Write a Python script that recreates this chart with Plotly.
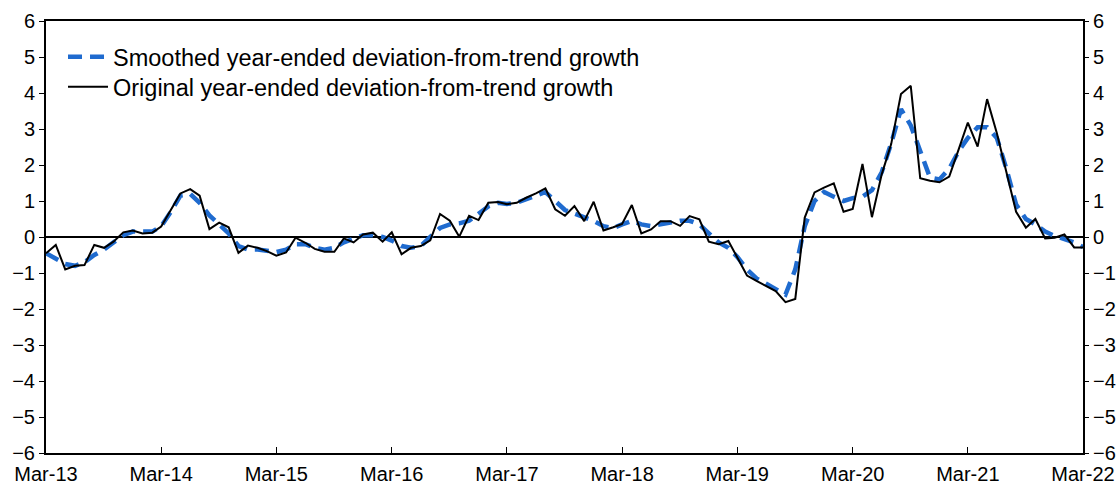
import pandas as pd
import plotly.graph_objects as go

# Monthly observations, Mar-2013 .. Mar-2022
months = pd.date_range("2013-03-01", "2022-03-01", freq="MS")

original = [
    -0.45, -0.22, -0.90, -0.80, -0.78, -0.22, -0.30, -0.13, 0.13, 0.18, 0.10, 0.12,
    0.29, 0.75, 1.21, 1.33, 1.15, 0.22, 0.40, 0.27, -0.44, -0.24, -0.30, -0.40,
    -0.52, -0.43, -0.02, -0.16, -0.33, -0.41, -0.41, -0.04, -0.15, 0.07, 0.12, -0.13,
    0.13, -0.48, -0.30, -0.25, -0.09, 0.64, 0.45, 0.01, 0.59, 0.47, 0.95, 0.97,
    0.91, 0.95, 1.09, 1.21, 1.35, 0.77, 0.59, 0.86, 0.44, 0.98, 0.18, 0.27,
    0.36, 0.89, 0.10, 0.21, 0.44, 0.44, 0.31, 0.58, 0.49, -0.13, -0.20, -0.11,
    -0.57, -1.07, -1.22, -1.36, -1.50, -1.81, -1.72, 0.54, 1.24, 1.37, 1.49, 0.70,
    0.78, 2.03, 0.55, 1.74, 2.58, 3.97, 4.20, 1.63, 1.56, 1.52, 1.68, 2.46,
    3.18, 2.51, 3.83, 2.88, 1.77, 0.70, 0.26, 0.50, -0.04, -0.02, 0.07, -0.29,
    -0.29,
]

smoothed = [
    -0.45, -0.60, -0.75, -0.80, -0.70, -0.50, -0.35, -0.15, 0.05, 0.15, 0.15, 0.15,
    0.30, 0.70, 1.15, 1.20, 0.95, 0.60, 0.35, 0.10, -0.25, -0.35, -0.35, -0.40,
    -0.42, -0.35, -0.20, -0.20, -0.30, -0.35, -0.30, -0.15, -0.05, 0.05, 0.05, 0.00,
    -0.10, -0.25, -0.30, -0.25, 0.00, 0.25, 0.35, 0.38, 0.45, 0.65, 0.85, 0.95,
    0.92, 0.95, 1.05, 1.15, 1.25, 1.00, 0.75, 0.65, 0.55, 0.45, 0.30, 0.25,
    0.35, 0.45, 0.35, 0.30, 0.35, 0.40, 0.45, 0.45, 0.35, 0.10, -0.15, -0.30,
    -0.55, -0.90, -1.15, -1.30, -1.45, -1.60, -0.90, 0.30, 1.00, 1.25, 1.12, 1.00,
    1.08, 1.12, 1.30, 1.80, 2.60, 3.55, 3.10, 2.35, 1.65, 1.60, 1.90, 2.40,
    2.75, 3.05, 3.05, 2.75, 1.90, 0.90, 0.50, 0.35, 0.15, 0.03, -0.05, -0.15,
    -0.28,
]

tick_dates = pd.date_range("2013-03-01", "2022-03-01", freq="12MS")
tick_labels = ["Mar-13", "Mar-14", "Mar-15", "Mar-16", "Mar-17",
               "Mar-18", "Mar-19", "Mar-20", "Mar-21", "Mar-22"]
y_ticks = list(range(-6, 7))

FONT = "Liberation Sans, Arial, sans-serif"
TICK_SIZE = 20
LEGEND_SIZE = 23.5

fig = go.Figure()
fig.add_trace(go.Scatter(
    x=months, y=smoothed, mode="lines",
    name="Smoothed year-ended deviation-from-trend growth",
    line=dict(color="#1f6bcf", width=4.5, dash="14px,8px"),
    legend="legend",
))
fig.add_trace(go.Scatter(
    x=months, y=original, mode="lines",
    name="Original year-ended deviation-from-trend growth",
    line=dict(color="black", width=2),
    legend="legend2",
))
# invisible trace to activate right axis
fig.add_trace(go.Scatter(x=[months[0]], y=[0], yaxis="y2", mode="markers",
                         marker=dict(opacity=0), showlegend=False, hoverinfo="skip"))

legend_common = dict(x=0.0164, xanchor="left", yanchor="middle",
                     bgcolor="rgba(0,0,0,0)",
                     font=dict(size=LEGEND_SIZE, family=FONT), itemwidth=40)

fig.update_layout(
    width=1117, height=485,
    margin=dict(l=46, r=34, t=21, b=32, autoexpand=False),
    paper_bgcolor="white", plot_bgcolor="white",
    font=dict(family=FONT, size=TICK_SIZE, color="black"),
    showlegend=True,
    legend=dict(y=0.9167, **legend_common),
    legend2=dict(y=0.847, **legend_common),
    xaxis=dict(
        range=[months[0], months[-1]],
        tickvals=tick_dates, ticktext=tick_labels,
        ticks="inside", ticklen=6, tickwidth=1, tickcolor="black",
        showline=True, linecolor="black", linewidth=2, mirror=True,
        showgrid=False, zeroline=False, automargin=False,
        tickfont=dict(size=TICK_SIZE), ticklabelstandoff=2,
    ),
    yaxis=dict(
        range=[-6, 6], tickvals=y_ticks,
        ticks="outside", ticklen=5, tickwidth=1, tickcolor="black",
        showline=True, linecolor="black", linewidth=2, mirror=True,
        showgrid=False, zeroline=True, zerolinecolor="black", zerolinewidth=1.5,
        automargin=False, tickfont=dict(size=TICK_SIZE),
    ),
    yaxis2=dict(
        range=[-6, 6], tickvals=y_ticks, overlaying="y", side="right",
        ticks="outside", ticklen=5, tickwidth=1, tickcolor="black",
        showline=False, showgrid=False, zeroline=False, automargin=False,
        tickfont=dict(size=TICK_SIZE),
    ),
)

fig.write_html(
    "out.html",
    config={"displayModeBar": False},
    post_script="document.body.style.margin='0';document.body.style.overflow='hidden';",
)
